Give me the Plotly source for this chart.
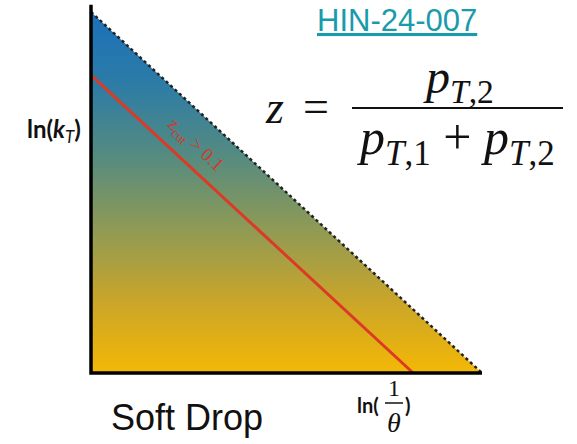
import plotly.graph_objects as go

# ---- data (normalised Lund-plane units) ----
tri_x = [0.0, 0.0, 1.0, 0.0]          # ln(1/theta)
tri_y = [0.0, 1.0, 0.0, 0.0]          # ln(kT)
edge_x = [0.0, 1.0]                   # kinematic limit
edge_y = [1.0, 0.0]
axis_x = [0.0, 0.0, 1.0]
axis_y = [1.02, 0.0, 0.0]
zcut_x = [0.0, 0.824]                 # z_cut > 0.1 line
zcut_y = [0.825, 0.0]

W, H = 577, 444
def px(x):
    return x / W
def py(y):
    return 1 - y / H

colorscale = [
    [0.0, "#f4b805"],
    [0.2, "#c9a52a"],
    [0.4, "#8f9a55"],
    [0.6, "#558b80"],
    [0.8, "#2c7ca6"],
    [1.0, "#1a70ba"],
]

fig = go.Figure()
fig.add_trace(go.Scatter(
    x=tri_x, y=tri_y, mode="lines", fill="toself",
    fillgradient=dict(type="vertical", colorscale=colorscale),
    line=dict(width=0), hoverinfo="skip", showlegend=False))
fig.add_trace(go.Scatter(
    x=edge_x, y=edge_y, mode="lines",
    line=dict(color="#222222", width=2.5, dash="3px,3px"),
    showlegend=False))
fig.add_trace(go.Scatter(
    x=zcut_x, y=zcut_y, mode="lines",
    line=dict(color="#dc3a26", width=3), showlegend=False))
fig.add_trace(go.Scatter(
    x=axis_x, y=axis_y, mode="lines",
    line=dict(color="#000000", width=3.5), showlegend=False))

serif = "Liberation Serif"
sans = "Liberation Sans"

ann = [
    dict(x=px(397), y=py(21), text="<u>HIN-24-007</u>",
         font=dict(family=sans, size=31, color="#1a9bab")),
    dict(x=px(274), y=py(108), text="<i>z</i>",
         font=dict(family=serif, size=46, color="#111")),
    dict(x=px(316), y=py(106), text="=",
         font=dict(family=serif, size=46, color="#111")),
    dict(x=px(458), y=py(80), text="<i>p</i><sub><i>T</i>,2</sub>",
         font=dict(family=serif, size=48, color="#111")),
    dict(x=px(456), y=py(141), text="<i>p</i><sub><i>T</i>,1</sub> + <i>p</i><sub><i>T</i>,2</sub>",
         font=dict(family=serif, size=50, color="#111")),
    dict(x=px(54), y=py(130), text="<b>ln(</b><b><i>k</i></b><sub><i>T</i></sub><b>)</b>",
         font=dict(family="Lato", size=24, color="#111")),
    dict(x=px(187), y=py(417), text="Soft Drop",
         font=dict(family=sans, size=36, color="#111")),
    dict(x=px(368), y=py(405), text="<b>ln(</b>",
         font=dict(family="Lato", size=20, color="#111")),
    dict(x=px(394), y=py(388), text="1",
         font=dict(family=serif, size=24, color="#111")),
    dict(x=px(394), y=py(422), text="<i>θ</i>",
         font=dict(family=serif, size=28, color="#111")),
    dict(x=px(408), y=py(405), text="<b>)</b>",
         font=dict(family="Lato", size=20, color="#111")),
    dict(x=px(195), y=py(145), text="z<sub>cut</sub> > 0.1", textangle=43,
         font=dict(family=serif, size=19, color="#d23a2a")),
]
for a in ann:
    a.update(xref="paper", yref="paper", showarrow=False,
             xanchor="center", yanchor="middle")

shapes = [
    dict(type="line", xref="paper", yref="paper",
         x0=px(352), x1=px(563), y0=py(108), y1=py(108),
         line=dict(color="#111", width=2)),
    dict(type="line", xref="paper", yref="paper",
         x0=px(385), x1=px(403), y0=py(403), y1=py(403),
         line=dict(color="#111", width=1.5)),
]

x0 = -91 / 391
x1 = x0 + W / 391
y0 = -(H - 373) / 361
y1 = 1 + 12 / 361

fig.update_layout(
    width=W, height=H, margin=dict(l=0, r=0, t=0, b=0),
    paper_bgcolor="white", plot_bgcolor="white",
    xaxis=dict(range=[x0, x1], visible=False, fixedrange=True),
    yaxis=dict(range=[y0, y1], visible=False, fixedrange=True),
    annotations=ann, shapes=shapes, showlegend=False,
)
fig.write_html("out.html")
